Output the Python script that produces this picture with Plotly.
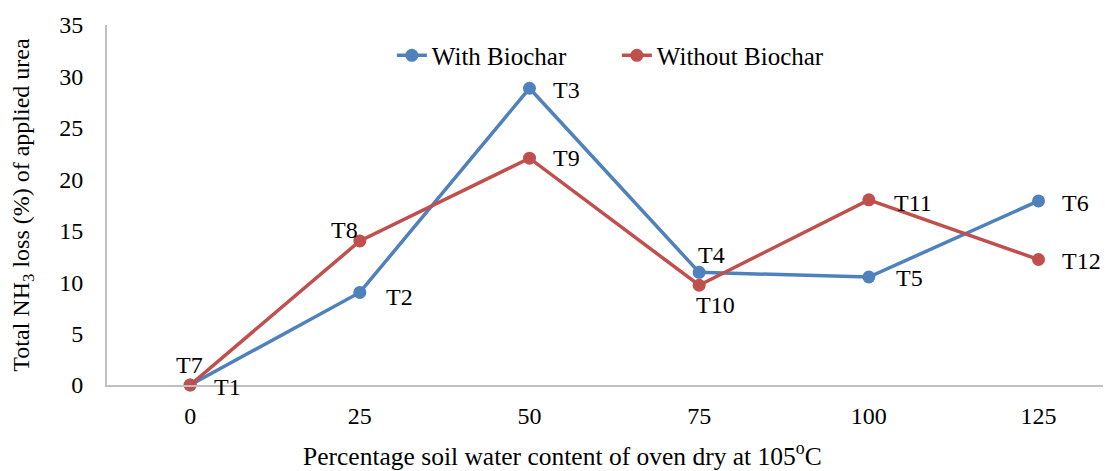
import plotly.graph_objects as go

water = [0, 25, 50, 75, 100, 125]
with_biochar = [0, 9.0, 28.85, 10.95, 10.5, 17.9]
without_biochar = [0, 14.0, 22.05, 9.7, 18.0, 12.2]
labels_with = ["T1", "T2", "T3", "T4", "T5", "T6"]
labels_without = ["T7", "T8", "T9", "T10", "T11", "T12"]
x_title = "Percentage soil water content of oven dry at 105<sup>o</sup>C"
y_title = "Total NH<sub>3</sub> loss (%) of applied urea"

# label placement (style): (xanchor, xshift, yshift)
place_with = [("left", 22, -2), ("left", 24, -5), ("left", 22, -2),
              ("center", 12, 17), ("left", 25, -1), ("left", 21, -2)]
place_without = [("center", -1, 20), ("right", 0, 11), ("left", 22, 0),
                 ("center", 16, -20), ("left", 23, -3), ("left", 21, -1)]

blue = "#4F81BD"
red = "#C0504D"
font = "Liberation Serif"
fs = 24

fig = go.Figure()
fig.add_trace(go.Scatter(
    x=water, y=with_biochar, name="With Biochar", mode="lines+markers",
    line=dict(color=blue, width=3.5), marker=dict(color=blue, size=13), cliponaxis=False,
))
fig.add_trace(go.Scatter(
    x=water, y=without_biochar, name="Without Biochar", mode="lines+markers",
    line=dict(color=red, width=3.5), marker=dict(color=red, size=13), cliponaxis=False,
))

for xs, ys, labs, places in [(water, with_biochar, labels_with, place_with),
                             (water, without_biochar, labels_without, place_without)]:
    for xv, yv, lab, (xa, dx, dy) in zip(xs, ys, labs, places):
        fig.add_annotation(x=xv, y=yv, text=lab, showarrow=False, xanchor=xa, yanchor="middle",
                           xshift=dx, yshift=dy, font=dict(family=font, size=fs, color="black"))

# x-axis title (offset to the left as in the original)
fig.add_annotation(x=0.457, y=0, xref="paper", yref="paper", text=x_title, showarrow=False,
                   xanchor="center", yanchor="middle", yshift=-69,
                   font=dict(family=font, size=25.5, color="black"))

fig.update_layout(
    width=1105, height=471,
    margin=dict(l=107, r=2, t=25, b=86),
    paper_bgcolor="white", plot_bgcolor="white",
    font=dict(family=font, size=fs, color="black"),
    showlegend=True,
    legend=dict(orientation="h", x=0.286, y=0.915, xanchor="left", yanchor="middle",
                font=dict(family=font, size=25, color="black"), entrywidth=180,
                bgcolor="rgba(0,0,0,0)", traceorder="normal"),
    xaxis=dict(range=[-12.25, 134.5], tickvals=water, ticktext=[str(v) for v in water],
               showgrid=False, zeroline=False, showline=True, linecolor="#BFBFBF", linewidth=2,
               ticks="", ticklabelstandoff=8, automargin=False),
    yaxis=dict(range=[0, 35], dtick=5, showgrid=False, zeroline=False, showline=True,
               linecolor="#BFBFBF", linewidth=2, ticks="", ticklabelstandoff=17, automargin=False,
               title=dict(text=y_title, font=dict(family=font, size=fs), standoff=23)),
)

fig.write_html("out.html", config={"displayModeBar": False},
               post_script="document.body.style.margin='0';")
